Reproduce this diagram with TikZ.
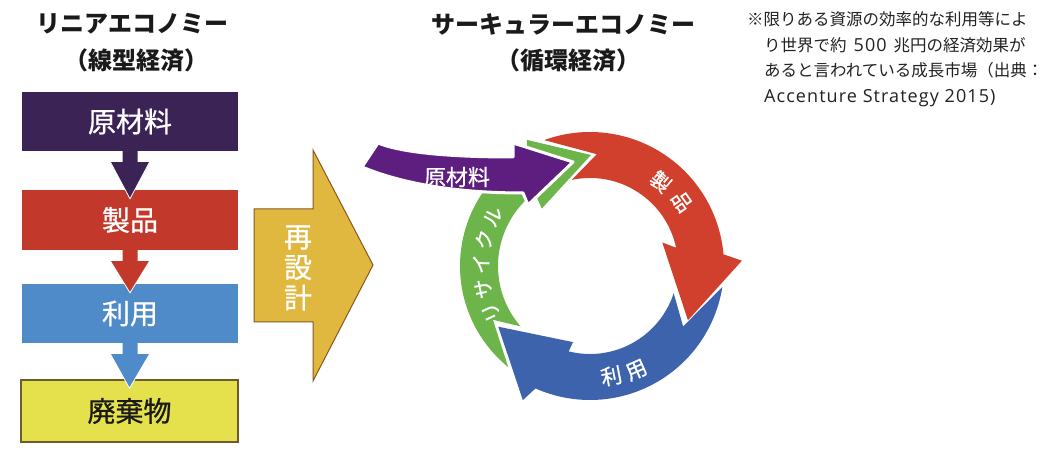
\documentclass[tikz,border=0pt]{standalone}
\usepackage{fontspec}
\newfontfamily\jp{Noto Sans CJK JP}
\newfontfamily\jpm[FakeBold=0.8]{Noto Sans CJK JP}
\newfontfamily\lat[LetterSpace=6]{Open Sans}
\usetikzlibrary{calc}
\definecolor{boxpurple}{HTML}{3C2356}
\definecolor{boxred}{HTML}{C2392B}
\definecolor{boxblue}{HTML}{4F8BC8}
\definecolor{boxyellow}{HTML}{E4E14D}
\definecolor{boxyellowline}{HTML}{6E5B2C}
\definecolor{redesignfill}{HTML}{E1B83F}
\definecolor{redesignline}{HTML}{87571F}
\definecolor{cpurple}{HTML}{5E1E7F}
\definecolor{cgreen}{HTML}{6DB54B}
\definecolor{cred}{HTML}{D1402D}
\definecolor{cblue}{HTML}{3C63AC}
\definecolor{titletext}{HTML}{1A1A1A}
\definecolor{notetext}{HTML}{222222}
\newcommand\dnarrow[3]{%
  \fill[#3] ($(#1.south)+(-7.5,1)$) -- ($(#1.south)+(-7.5,-11)$) -- ($(#1.south)+(-19.5,-11)$) -- ($(#2.north)+(0,-9)$) -- ($(#1.south)+(19.5,-11)$) -- ($(#1.south)+(7.5,-11)$) -- ($(#1.south)+(7.5,1)$) -- cycle;
  \draw[white, line width=0.8pt] ($(#1.south)+(-19.5,-11)$) -- ($(#2.north)+(0,-9)$) -- ($(#1.south)+(19.5,-11)$);}
\begin{document}
\begin{tikzpicture}[x=1pt,y=1pt,
  box/.style={minimum width=216pt, inner sep=0pt, draw=none, text=white, font=\jpm\fontsize{28}{30}\selectfont},
  ttl/.style={inner sep=0pt, text=titletext, font=\jp\bfseries\fontsize{24}{28}\selectfont},
  clbl/.style={inner sep=0pt, text=white, font=\jpm\fontsize{20}{22}\selectfont},
  rlbl/.style={inner sep=0pt, text=white, font=\jpm\fontsize{20}{22}\selectfont},
  note/.style={inner sep=0pt, anchor=base west, text=notetext, font=\jp\fontsize{16.5}{20}\selectfont}]
\fill[white] (0,0) rectangle (1054,452);
\useasboundingbox (0,0) rectangle (1054,452);

% titles
\node[ttl] (t1) at (132,428) {リニアエコノミー};
\node[ttl] (t2) at (136,392) {（線型経済）};
\node[ttl] (t3) at (563,428) {サーキュラーエコノミー};
\node[ttl] (t4) at (568,392) {（循環経済）};

% linear boxes
\node[box, fill=boxpurple, minimum height=59pt] (b1) at (130,330.5) {原材料};
\node[box, fill=boxred, minimum height=60pt] (b2) at (130,232) {製品};
\node[box, fill=boxblue, minimum height=59pt] (b3) at (130,138.5) {利用};
\node[box, fill=boxyellow, draw=boxyellowline, line width=1.5pt, minimum width=217pt, minimum height=62pt, text=titletext] (b4) at (129.5,41) {廃棄物};
\dnarrow{b1}{b2}{boxpurple}
\dnarrow{b2}{b3}{boxred}
\dnarrow{b3}{b4}{boxblue}

% redesign arrow
\draw[fill=redesignfill, draw=redesignline, line width=1pt, line join=miter] (254,243) -- (313,243) -- (313,302) -- (373,187) -- (313,71) -- (313,130) -- (254,130) -- cycle;
\node[inner sep=0pt, text=white, align=center, font=\jpm\fontsize{28}{30.5}\selectfont] (rd) at (298,184) {再\\設\\計};

% circular arrows
\begin{scope}[shift={(590,186)}]
\fill[cgreen] (231:130pt) arc[start angle=231,end angle=119,radius=130pt] -- (116.6:141pt) -- (89.5:111pt) -- (130:75pt) -- (127:92pt) arc[start angle=127,end angle=221,radius=92pt] -- (209:111pt) -- cycle;
\fill[cred] (110:134pt) arc[start angle=110,end angle=5,radius=134pt] -- (2:152pt) -- (-29:112pt) -- (18:76pt) -- (12:88pt) arc[start angle=12,end angle=102,radius=88pt] -- (86.5:112pt) -- cycle;
\fill[cblue] (-9:134pt) arc[start angle=-9,end angle=-114,radius=134pt] -- (-116.6:150pt) -- (-146.5:110pt) -- (-102.6:78pt) -- (-104:88pt) arc[start angle=-104,end angle=-18,radius=88pt] -- (-33:111pt) -- cycle;
\node[clbl, rotate=-40] (s1) at (50:110pt) {製};
\node[clbl, rotate=-55] (s2) at (35:112pt) {品};
\node[clbl, font=\jpm\fontsize{21}{23}\selectfont, rotate=11] (u1) at (-79:112pt) {利};
\node[clbl, font=\jpm\fontsize{21}{23}\selectfont, rotate=24] (u2) at (-66:114pt) {用};
\node[rlbl, rotate=115] (r1) at (205:109pt) {リ};
\node[rlbl, rotate=102] (r2) at (192:109pt) {サ};
\node[rlbl, rotate=89] (r3) at (179:109pt) {イ};
\node[rlbl, rotate=76] (r4) at (166:109pt) {ク};
\node[rlbl, rotate=63] (r5) at (153:109pt) {ル};
\end{scope}

% raw material arrow
\draw[fill=cpurple, draw=white, line width=3pt, line join=round] (378,309) .. controls (400,300) and (445,295) .. (513,295) -- (513,309) -- (573,290) -- (528,247) -- (523,259) .. controls (470,259) and (410,265) .. (362,285) -- cycle;
\node[clbl, font=\jpm\fontsize{22}{24}\selectfont] (p1) at (457,275) {原材料};

% note
\node[note] (n1) at (747,426) {※限りある資源の効率的な利用等によ};
\node[note] (n2) at (764,400.5) {り世界で約\hspace{7pt}{\lat\fontsize{18}{20}\selectfont 500}\hspace{7pt}兆円の経済効果が};
\node[note] (n3) at (764,375) {あると言われている成長市場（出典：};
\node[note] (n4) at (764,349.5) {{\lat\fontsize{18}{20}\selectfont Accenture Strategy 2015)}};
\end{tikzpicture}
\end{document}
